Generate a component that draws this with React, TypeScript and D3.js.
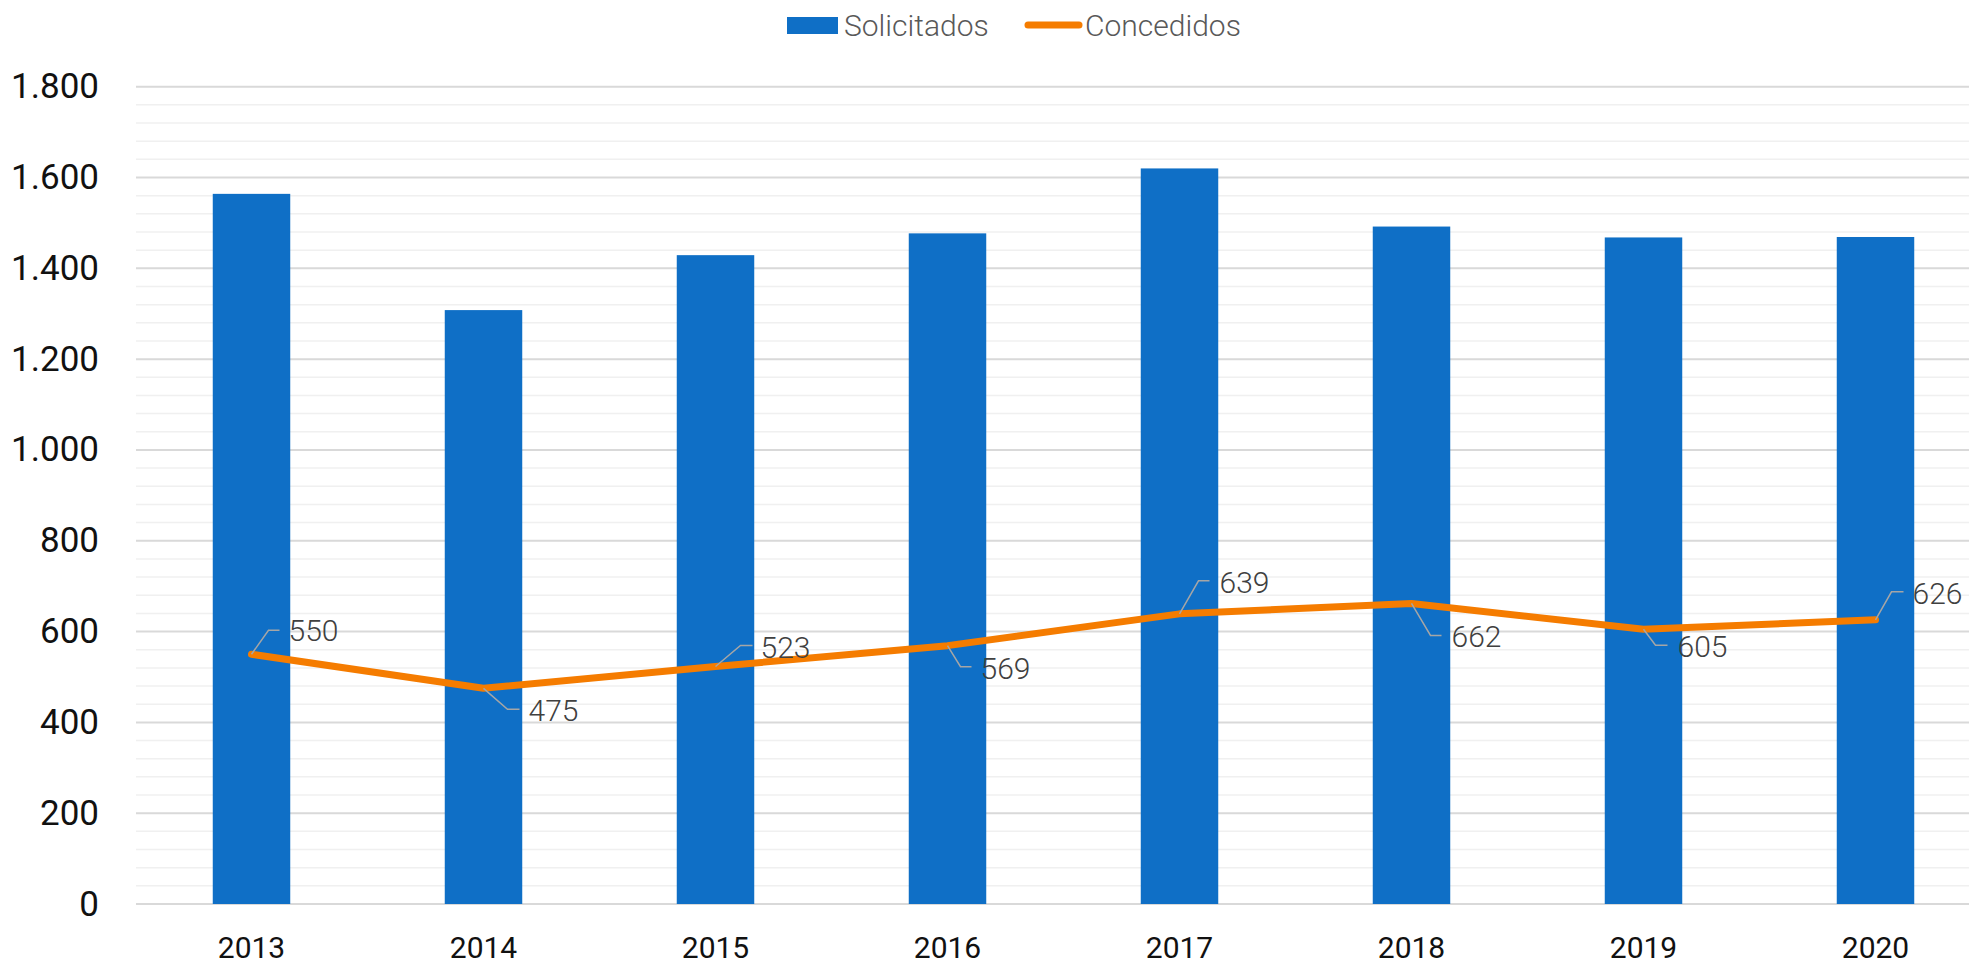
import React from "react";
import * as d3 from "d3";

const years = ["2013", "2014", "2015", "2016", "2017", "2018", "2019", "2020"];
const solicitados = [1564, 1308, 1429, 1477, 1620, 1492, 1468, 1469];
const concedidos = [550, 475, 523, 569, 639, 662, 605, 626];
const yTicks = [0, 200, 400, 600, 800, 1000, 1200, 1400, 1600, 1800];

// label placement (leader elbow dx/dy, leader end dx, text left dx, text center dy)
const labelPlacement = [
  { ex: 17, ey: -24, hx: 28, tx: 37, ty: -24 },
  { ex: 24, ey: 21, hx: 36, tx: 45, ty: 22 },
  { ex: 25, ey: -21, hx: 37, tx: 45, ty: -19 },
  { ex: 13, ey: 21, hx: 24, tx: 33, ty: 23 },
  { ex: 19, ey: -33, hx: 30, tx: 40, ty: -31 },
  { ex: 19, ey: 32, hx: 30, tx: 40, ty: 33 },
  { ex: 12, ey: 16, hx: 24, tx: 34, ty: 17.5 },
  { ex: 16, ey: -28, hx: 28, tx: 37, ty: -26 },
];

const W = 1969;
const H = 963;
const FONT = "Roboto, 'Noto Sans', sans-serif";
const BLUE = "#0F6FC6";
const ORANGE = "#F57C00";

export default function App() {
  const x = d3
    .scaleBand<string>()
    .domain(years)
    .range([135.5, 1991.5])
    .paddingInner(0.666)
    .paddingOuter(0.333);
  const y = d3.scaleLinear().domain([0, 1800]).range([904, 86.7]);
  const cx = (d: string) => (x(d) as number) + x.bandwidth() / 2;

  const minorTicks = d3.range(0, 1800 + 1, 40).filter((v) => v % 200 !== 0);

  const line = d3
    .line<number>()
    .x((_, i) => cx(years[i]))
    .y((v) => y(v));

  const fmt = (v: number) => d3.format(",")(v).replace(/,/g, ".");

  return (
    <svg
      width={W}
      height={H}
      style={{ position: "absolute", left: 0, top: 0, display: "block", background: "#fff" }}
      fontFamily={FONT}
    >
      {minorTicks.map((v) => (
        <line key={"m" + v} x1={136} x2={W} y1={y(v)} y2={y(v)} stroke="#F0F0F0" strokeWidth={1.5} />
      ))}
      {yTicks.map((v) => (
        <line key={"g" + v} x1={136} x2={W} y1={y(v)} y2={y(v)} stroke="#D9D9D9" strokeWidth={2} />
      ))}
      {yTicks.map((v) => (
        <text
          key={"t" + v}
          x={99}
          y={y(v)}
          textAnchor="end"
          dominantBaseline="central"
          fontSize={35}
          fill="#111"
        >
          {fmt(v)}
        </text>
      ))}
      {solicitados.map((v, i) => (
        <rect
          key={"b" + i}
          x={x(years[i])}
          y={y(v)}
          width={x.bandwidth()}
          height={y(0) - y(v)}
          fill={BLUE}
        />
      ))}
      {years.map((d) => (
        <text key={"x" + d} x={cx(d)} y={947} textAnchor="middle" dominantBaseline="central" fontSize={30} fill="#111">
          {d}
        </text>
      ))}
      <path d={line(concedidos) || ""} fill="none" stroke={ORANGE} strokeWidth={7} strokeLinejoin="round" strokeLinecap="round" />
      {concedidos.map((v, i) => {
        const px = cx(years[i]);
        const py = y(v);
        const p = labelPlacement[i];
        return (
          <g key={"l" + i}>
            <polyline
              points={`${px},${py} ${px + p.ex},${py + p.ey} ${px + p.hx},${py + p.ey}`}
              fill="none"
              stroke="#A6A6A6"
              strokeWidth={1.5}
            />
            <text x={px + p.tx} y={py + p.ty} dominantBaseline="central" fontSize={30} fontWeight={300} fill="#404040">
              {fmt(v)}
            </text>
          </g>
        );
      })}
      <rect x={787} y={17} width={51} height={17} fill={BLUE} />
      <text x={844} y={25} dominantBaseline="central" fontSize={30} fontWeight={300} fill="#595959">
        Solicitados
      </text>
      <line x1={1028} x2={1079} y1={25} y2={25} stroke={ORANGE} strokeWidth={7} strokeLinecap="round" />
      <text x={1085} y={25} dominantBaseline="central" fontSize={30} fontWeight={300} fill="#595959">
        Concedidos
      </text>
    </svg>
  );
}
